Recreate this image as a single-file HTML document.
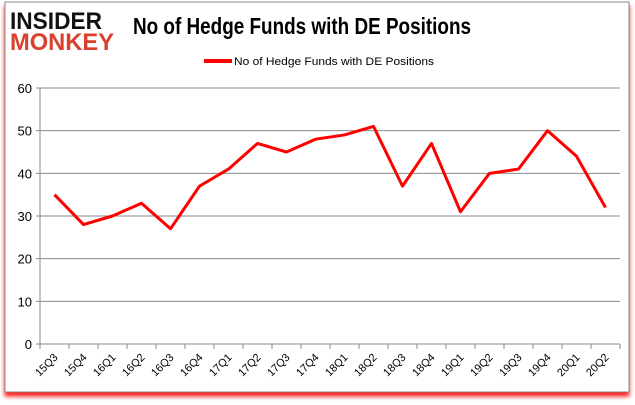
<!DOCTYPE html>
<html><head><style>
body{margin:0;background:#fff;}
svg{display:block;font-family:"Liberation Sans",sans-serif;}
</style></head><body>
<svg id="c" width="635" height="405">
<defs><filter id="sh" x="-5%" y="-5%" width="110%" height="115%"><feDropShadow dx="0" dy="4" stdDeviation="2" flood-color="#f00" flood-opacity="0.9"/></filter></defs>
<rect x="5" y="2" width="624" height="390" fill="#fff" stroke="#888" filter="url(#sh)"/>
<g>
<text x="10" y="29" font-size="24" font-weight="bold" fill="#111" textLength="92" lengthAdjust="spacingAndGlyphs">INSIDER</text>
<text x="10" y="50" font-size="24" font-weight="bold" fill="#d9412e" textLength="104" lengthAdjust="spacingAndGlyphs">MONKEY</text>
</g>
<text x="133" y="34" font-size="23" font-weight="bold" fill="#000" textLength="338" lengthAdjust="spacingAndGlyphs">No of Hedge Funds with DE Positions</text>
<line x1="204" y1="61" x2="232" y2="61" stroke="#f00" stroke-width="4"/>
<text x="234" y="65" font-size="11" fill="#000" textLength="200" lengthAdjust="spacingAndGlyphs">No of Hedge Funds with DE Positions</text>
<g id="g"></g>
</svg>
<script>
const categories=["15Q3","15Q4","16Q1","16Q2","16Q3","16Q4","17Q1","17Q2","17Q3","17Q4","18Q1","18Q2","18Q3","18Q4","19Q1","19Q2","19Q3","19Q4","20Q1","20Q2"];
const values=[35,28,30,33,27,37,41,47,45,48,49,51,37,47,31,40,41,50,44,32];
const yTicks=[0,10,20,30,40,50,60];
const ns="http://www.w3.org/2000/svg",g=document.getElementById('g');
const L=40,R=620,T=88,B=344,ymax=60;
const step=(R-L)/categories.length;
const x=i=>L+step*(i+0.5), y=v=>B-(v/ymax)*(B-T);
function mk(t,a){const e=document.createElementNS(ns,t);for(const k in a)e.setAttribute(k,a[k]);g.appendChild(e);return e;}
yTicks.forEach(v=>{
 const l=mk('line',{x1:L-4,x2:R,y1:y(v),y2:y(v),stroke:'#888'});
 
 
 const t=mk('text',{x:L-8,y:y(v)+5,'text-anchor':'end','font-size':13});
 t.textContent=v;
 
 
});
const ax=mk('line',{x1:L,x2:L,y1:T,y2:B,stroke:'#888'});


categories.forEach((c,i)=>{
 const tk=mk('line',{x1:L+step*i,x2:L+step*i,y1:B,y2:B+5,stroke:'#888'});
 
 
 const t=mk('text',{x:x(i)+4,y:B+14,'text-anchor':'end','font-size':11,transform:`rotate(-45 ${x(i)+4} ${B+14})`});
 t.textContent=c;
 
 
});
const tk2=mk('line',{x1:R,x2:R,y1:B,y2:B+5,stroke:'#888'});


const p=mk('polyline',{points:values.map((v,i)=>x(i)+','+y(v)).join(' '),fill:'none',stroke:'#f00','stroke-width':3,'stroke-linejoin':'round'});


</script>
</body></html>
